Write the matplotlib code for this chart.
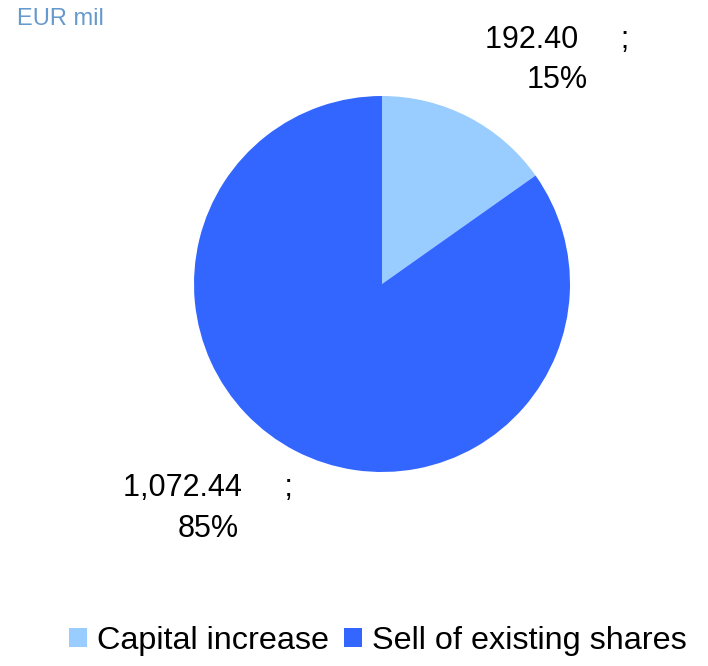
import matplotlib
matplotlib.use("Agg")
import matplotlib.pyplot as plt
from matplotlib.patches import Patch

plt.rcParams['font.family'] = ['Liberation Sans', 'DejaVu Sans']

categories = ["Capital increase", "Sell of existing shares"]
values = [192.40, 1072.44]
value_labels = ["192.40", "1,072.44"]
colors = ["#99CCFF", "#3366FF"]

W, H = 708, 666
fig = plt.figure(figsize=(W / 100, H / 100), dpi=100)

cx, cy, r = 382, 284, 188
ax = fig.add_axes([(cx - r) / W, (H - cy - r) / H, 2 * r / W, 2 * r / H])
ax.pie(values, colors=colors, startangle=90, counterclock=False, radius=1,
       wedgeprops=dict(linewidth=0))
ax.set_xlim(-1, 1)
ax.set_ylim(-1, 1)
ax.set_aspect('equal')
ax.axis('off')

total = sum(values)
label_pos = [(0.93, 1.19), (-0.925, -1.195)]
for (x, y), v, vl in zip(label_pos, values, value_labels):
    pct = round(v / total * 100)
    ax.text(x, y, f"{vl}     ;\n{pct}%", ha='center', va='center', fontsize=22,
            linespacing=1.45, color='black', clip_on=False)

fig.text(17 / W, 1 - 19 / H, "EUR mil", fontsize=17, color="#6699CC",
         ha='left', va='center')

handles = [Patch(facecolor=c, edgecolor='none') for c in colors]
fig.legend(handles, categories, loc='center', bbox_to_anchor=(378 / W, 1 - 641 / H),
           ncol=2, frameon=False, fontsize=23.3, handlelength=0.56, handleheight=0.56,
           handletextpad=0.31, columnspacing=0.47, borderpad=0, borderaxespad=0)

fig.savefig("out.png", dpi=100, facecolor='white')
